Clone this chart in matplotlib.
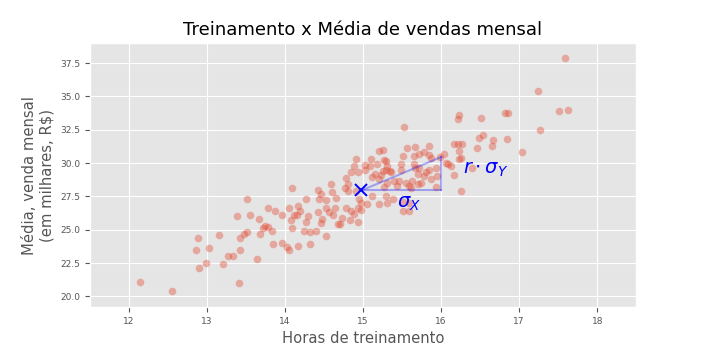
import matplotlib
matplotlib.use("Agg")
import matplotlib.pyplot as plt
import numpy as np

# horas de treinamento x media de vendas mensal (R$ mil)
horas = [
    12.14, 12.55, 12.88, 12.86, 12.90, 12.99, 13.03, 13.16, 13.20, 13.27,
    13.33, 13.38, 13.41, 13.42, 13.43, 13.48, 13.51, 13.52, 13.55, 13.64,
    13.67, 13.68, 13.72, 13.74, 13.78, 13.78, 13.83, 13.85, 13.87, 13.96,
    13.96, 14.02, 14.05, 14.05, 14.09, 14.08, 14.09, 14.12, 14.15, 14.17,
    14.19, 14.17, 14.25, 14.27, 14.27, 14.29, 14.32, 14.32, 14.40, 14.42,
    14.42, 14.44, 14.46, 14.46, 14.48, 14.53, 14.53, 14.53, 14.57, 14.59,
    14.60, 14.61, 14.64, 14.65, 14.68, 14.71, 14.73, 14.77, 14.78, 14.78,
    14.81, 14.83, 14.85, 14.85, 14.88, 14.89, 14.91, 14.93, 14.93, 14.93,
    14.95, 14.97, 14.97, 15.02, 15.02, 15.05, 15.09, 15.10, 15.11, 15.15,
    15.18, 15.21, 15.21, 15.23, 15.26, 15.26, 15.27, 15.29, 15.29, 15.29,
    15.31, 15.31, 15.31, 15.34, 15.39, 15.40, 15.44, 15.49, 15.49, 15.51,
    15.51, 15.53, 15.55, 15.56, 15.59, 15.61, 15.63, 15.65, 15.65, 15.66,
    15.67, 15.70, 15.70, 15.72, 15.72, 15.74, 15.78, 15.78, 15.81, 15.84,
    15.85, 15.85, 15.87, 15.87, 15.93, 15.93, 15.95, 15.98, 16.04, 16.06,
    16.09, 16.13, 16.16, 16.17, 16.21, 16.22, 16.23, 16.23, 16.25, 16.26,
    16.27, 16.40, 16.46, 16.49, 16.51, 16.54, 16.65, 16.66, 16.82, 16.86,
    16.85, 17.04, 17.24, 17.27, 17.51, 17.62, 17.59,
    14.91, 15.12, 15.27, 15.36, 15.46, 15.59, 15.59, 15.51, 15.21, 16.23,
    14.81,
]
vendas = [
    21.1, 20.4, 24.4, 23.5, 22.1, 22.5, 23.6, 24.6, 22.4, 23.0,
    23.0, 26.0, 21.0, 23.5, 24.4, 24.7, 24.8, 27.3, 26.1, 22.8,
    25.8, 24.7, 25.1, 25.3, 25.2, 26.6, 24.9, 23.9, 26.4, 26.1,
    24.0, 23.7, 23.5, 26.6, 28.1, 25.7, 25.1, 26.1, 26.1, 26.8,
    26.4, 23.8, 24.9, 27.3, 25.6, 26.0, 24.8, 23.9, 24.9, 28.0,
    26.3, 27.3, 27.7, 25.5, 25.8, 27.2, 26.6, 24.5, 26.3, 28.4,
    27.8, 26.1, 26.6, 27.4, 25.4, 25.4, 25.9, 28.1, 26.6, 28.9,
    27.9, 25.7, 26.4, 29.3, 26.2, 29.8, 30.3, 29.35, 26.6, 25.6,
    27.3, 27.0, 26.5, 29.85, 29.45, 26.9, 29.8, 30.3, 28.95, 29.15,
    29.9, 30.9, 26.95, 29.1, 31.0, 29.4, 30.2, 30.15, 29.5, 27.5,
    29.8, 28.5, 27.0, 29.4, 27.3, 28.65, 28.3, 29.95, 29.5, 30.5,
    26.4, 32.7, 28.5, 31.1, 26.4, 28.1, 28.65, 30.5, 29.9, 31.2,
    29.6, 28.4, 29.15, 30.7, 29.65, 28.5, 30.85, 29.0, 29.3, 30.6,
    31.3, 29.5, 30.35, 28.8, 29.65, 28.2, 29.0, 30.45, 30.65, 30.0,
    29.9, 29.8, 29.1, 31.45, 31.4, 33.3, 33.6, 30.9, 30.4, 27.9,
    31.45, 29.6, 31.15, 31.9, 33.4, 32.1, 31.3, 31.7, 33.75, 33.75,
    31.8, 30.8, 35.4, 32.5, 33.9, 34.0, 37.9,
    27.9, 27.5, 28.2, 29.3, 28.65, 28.3, 27.0, 27.1, 28.8, 30.3,
    28.4,
]

media_x = 14.98
media_y = 27.95
sigma_x = 1.02
r_sigma_y = 2.5

plt.style.use("ggplot")

fig = plt.figure(figsize=(7.07, 3.53), dpi=100)
ax = fig.add_axes([0.127, 0.13, 0.773, 0.748])

ax.scatter(horas, vendas, s=30, color="#E24A33", alpha=0.4, linewidths=0)

# triangulo da inclinacao
ax.plot([media_x, media_x + sigma_x], [media_y, media_y], color="blue", alpha=0.3, lw=1.5)
ax.plot([media_x + sigma_x, media_x + sigma_x], [media_y, media_y + r_sigma_y],
        color="blue", alpha=0.3, lw=1.5)
ax.plot([media_x, media_x + sigma_x], [media_y, media_y + r_sigma_y],
        color="blue", alpha=0.3, lw=1.5)
ax.plot(media_x, media_y, marker="x", color="blue", markersize=9, mew=1.4)

ax.text(media_x + sigma_x / 2 + 0.1, media_y - 0.3, r"$\sigma_X$", color="blue",
        fontsize=14, ha="center", va="top")
ax.text(media_x + sigma_x + 0.28, media_y + r_sigma_y * 0.62, r"$r \cdot \sigma_Y$",
        color="blue", fontsize=14, ha="left", va="center")

ax.set_xlim(11.5, 18.5)
ax.set_ylim(19.2, 39.0)
ax.set_xticks(np.arange(12, 19, 1))
ax.set_yticks(np.arange(20.0, 38.0, 2.5))
ax.tick_params(labelsize=6.5, colors="#555555")

ax.set_title("Treinamento x Média de vendas mensal", fontsize=13, color="black")
ax.set_xlabel("Horas de treinamento", fontsize=10.6, color="#555555")
ax.set_ylabel("Média, venda mensal\n(em milhares, R\\$)", fontsize=10.6, color="#555555")

fig.savefig("out.png", dpi=100)
